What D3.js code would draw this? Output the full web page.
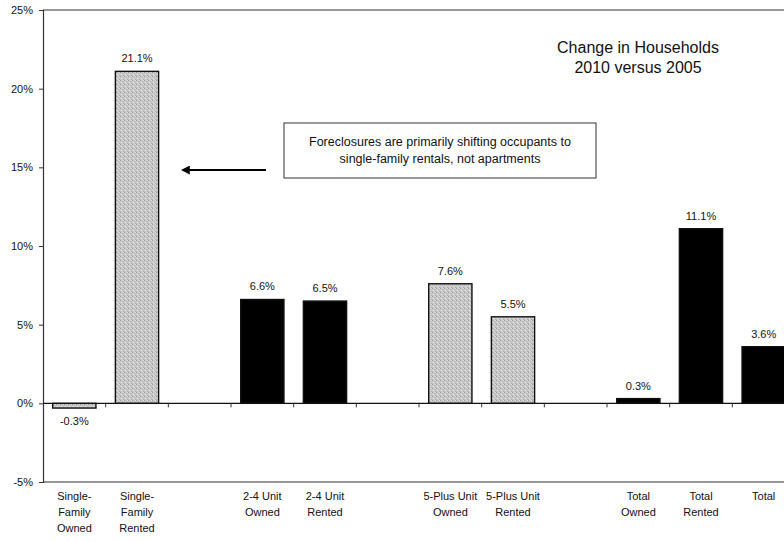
<!DOCTYPE html>
<html>
<head>
<meta charset="utf-8">
<script src="https://cdn.jsdelivr.net/npm/d3@7"></script>
<style>
  html, body { margin: 0; padding: 0; background: #fff; }
  svg { display: block; font-family: Arial, "Liberation Sans", sans-serif; }
</style>
</head>
<body>
<svg id="chart" width="784" height="541"></svg>
<script>
// Change in households, 2010 versus 2005 (blank slots separate the groups)
const categories = [
  ["Single-", "Family", "Owned"],
  ["Single-", "Family", "Rented"],
  null,
  ["2-4 Unit", "Owned"],
  ["2-4 Unit", "Rented"],
  null,
  ["5-Plus Unit", "Owned"],
  ["5-Plus Unit", "Rented"],
  null,
  ["Total", "Owned"],
  ["Total", "Rented"],
  ["Total"]
];
const values = [-0.3, 21.1, null, 6.6, 6.5, null, 7.6, 5.5, null, 0.3, 11.1, 3.6];
const valueLabels = ["-0.3%", "21.1%", null, "6.6%", "6.5%", null, "7.6%", "5.5%", null, "0.3%", "11.1%", "3.6%"];
const shading = ["gray", "gray", null, "black", "black", null, "gray", "gray", null, "black", "black", "black"];
const yTicks = [-5, 0, 5, 10, 15, 20, 25];
const titleLines = ["Change in Households", "2010 versus 2005"];
const noteLines = ["Foreclosures are primarily shifting occupants to", "single-family rentals, not apartments"];

const svg = d3.select("#chart");
const plotLeft = 43, plotRight = 795, plotTop = 10, plotBottom = 482;

const x = d3.scaleBand().domain(d3.range(categories.length)).range([plotLeft, plotRight]).paddingInner(0.31).paddingOuter(0.155);
const y = d3.scaleLinear().domain([-5, 25]).range([plotBottom, plotTop]);

// stippled light gray fill
const defs = svg.append("defs");
const pat = defs.append("pattern").attr("id", "stipple").attr("patternUnits", "userSpaceOnUse")
  .attr("width", 4).attr("height", 4);
pat.append("rect").attr("width", 4).attr("height", 4).attr("fill", "#c9c9c9");
[[0,0,"#9e9e9e"],[2,1,"#b0b0b0"],[1,2,"#e4e4e4"],[3,3,"#a9a9a9"],[3,0,"#dedede"],[0,3,"#bcbcbc"],[2,3,"#d8d8d8"]].forEach(([px,py,c]) =>
  pat.append("rect").attr("x", px).attr("y", py).attr("width", 1).attr("height", 1).attr("fill", c));

// frame: top border and bottom line
svg.append("line").attr("x1", plotLeft).attr("x2", 784).attr("y1", y(25)).attr("y2", y(25))
  .attr("stroke", "#333").attr("stroke-width", 1);
svg.append("line").attr("x1", plotLeft).attr("x2", 784).attr("y1", y(-5)).attr("y2", y(-5))
  .attr("stroke", "#333").attr("stroke-width", 1.2);

const yAxis = d3.axisLeft(y).tickValues(yTicks).tickFormat(d => d + "%").tickSize(4).tickPadding(6);
const gy = svg.append("g").attr("transform", `translate(${plotLeft},0)`).call(yAxis);
gy.select(".domain").attr("stroke", "#333").attr("stroke-width", 1.2);
gy.selectAll(".tick line").attr("stroke", "#333");
gy.selectAll(".tick text").attr("font-size", 11).attr("fill", "#111").attr("font-family", "Arial, 'Liberation Sans', sans-serif");

// bars
const idx = d3.range(values.length).filter(i => values[i] !== null);
svg.append("g").selectAll("rect").data(idx).join("rect")
  .attr("x", i => x(i))
  .attr("width", x.bandwidth())
  .attr("y", i => y(Math.max(0, values[i])))
  .attr("height", i => Math.abs(y(values[i]) - y(0)))
  .attr("fill", i => shading[i] === "gray" ? "url(#stipple)" : "#000")
  .attr("stroke", "#111")
  .attr("stroke-width", 1.4);

// zero line with ticks at slot boundaries
svg.append("line").attr("x1", plotLeft).attr("x2", 784).attr("y1", y(0)).attr("y2", y(0))
  .attr("stroke", "#111").attr("stroke-width", 1.3);
const step = x.step();
const bounds = d3.range(1, categories.length).map(i => x(i) - (step - x.bandwidth()) / 2);
svg.append("g").selectAll("line").data(bounds).join("line")
  .attr("x1", d => d).attr("x2", d => d)
  .attr("y1", y(0)).attr("y2", y(0) + 4)
  .attr("stroke", "#333");

// value labels
svg.append("g").selectAll("text").data(idx).join("text")
  .attr("x", i => x(i) + x.bandwidth() / 2)
  .attr("y", i => values[i] >= 0 ? y(values[i]) - 9 : y(values[i]) + 17)
  .attr("text-anchor", "middle")
  .attr("font-size", 11)
  .attr("fill", "#111")
  .text(i => valueLabels[i]);

// category labels
const cat = svg.append("g").selectAll("text").data(d3.range(categories.length).filter(i => categories[i])).join("text")
  .attr("x", i => x(i) + x.bandwidth() / 2)
  .attr("y", 500)
  .attr("text-anchor", "middle")
  .attr("font-size", 11)
  .attr("fill", "#111");
cat.each(function(i) {
  d3.select(this).selectAll("tspan").data(categories[i]).join("tspan")
    .attr("x", x(i) + x.bandwidth() / 2)
    .attr("dy", (d, k) => k === 0 ? 0 : 16)
    .text(d => d);
});

// title
svg.append("g").selectAll("text").data(titleLines).join("text")
  .attr("x", 638).attr("y", (d, k) => 53 + k * 20)
  .attr("text-anchor", "middle").attr("font-size", 16).attr("fill", "#111")
  .text(d => d);

// annotation box and arrow
svg.append("rect").attr("x", 284).attr("y", 123).attr("width", 312).attr("height", 55)
  .attr("fill", "#fff").attr("stroke", "#333").attr("stroke-width", 1);
svg.append("g").selectAll("text").data(noteLines).join("text")
  .attr("x", 440).attr("y", (d, k) => 146 + k * 17)
  .attr("text-anchor", "middle").attr("font-size", 12.5).attr("fill", "#111")
  .text(d => d);
defs.append("marker").attr("id", "head").attr("viewBox", "0 0 10 10").attr("refX", 2).attr("refY", 5)
  .attr("markerWidth", 9).attr("markerHeight", 9).attr("markerUnits", "userSpaceOnUse").attr("orient", "auto")
  .append("path").attr("d", "M10,5 L0,0 L0,10 Z").attr("fill", "#000");
svg.append("line").attr("x1", 266).attr("x2", 188).attr("y1", 170).attr("y2", 170)
  .attr("stroke", "#000").attr("stroke-width", 2).attr("marker-end", "url(#head)");
</script>
</body>
</html>
